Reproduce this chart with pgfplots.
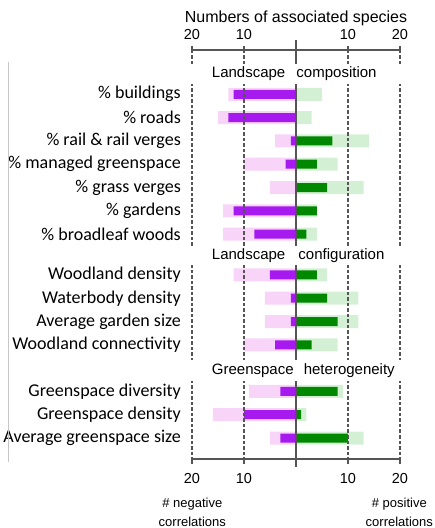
\documentclass[border=0pt]{standalone}
\usepackage{pgfplots}
\pgfplotsset{compat=1.18}
\usepackage{pgfplotstable}
\usepackage{fontspec}
\setmainfont{Liberation Sans}
\newfontfamily\catfont{Carlito}
\definecolor{negall}{RGB}{248,212,248}
\definecolor{negsig}{RGB}{166,26,240}
\definecolor{posall}{RGB}{212,240,212}
\definecolor{possig}{RGB}{0,136,0}
\definecolor{axgray}{RGB}{85,85,85}

\pgfplotstableread{
y      negall negsig posall possig
-1     -13    -12    5      0
-2     -15    -13    3      0
-3     -4     -1     14     7
-4     -10    -2     8      4
-5     -5     0      13     6
-6     -14    -12    4      4
-7     -14    -8     4      2
-8.75  -12    -5     6      4
-9.75  -6     -1     12     6
-10.75 -6     -1     12     8
-11.75 -10    -4     8      3
-13.75 -9     -3     9      8
-14.75 -16    -10    2      1
-15.75 -5     -3     13     10
}\data

\begin{document}
\begin{tikzpicture}
\begin{axis}[
  at={(0pt,0pt)}, anchor=south west,
  scale only axis, width=208pt, height=409pt,
  xmin=-20, xmax=20, ymin=-16.65, ymax=0.901,
  clip=false,
  axis x line*=bottom, axis y line*=left,
  y axis line style={draw=none},
  x axis line style={draw=axgray, line width=1.1pt},
  xtick={-20,-10,10,20}, xticklabels={20,10,10,20},
  tick align=outside, major tick length=5pt,
  xtick style={draw=axgray, line width=1.1pt},
  ytick style={draw=none},
  xticklabel style={font=\fontsize{14.5}{16}\selectfont, yshift=-6pt},
  ytick={-1,-2,-3,-4,-5,-6,-7,-8.75,-9.75,-10.75,-11.75,-13.75,-14.75,-15.75},
  yticklabels={\% buildings,\% roads,\% rail \& rail verges,\% managed greenspace,\% grass verges,\% gardens,\% broadleaf woods,Woodland density,Waterbody density,Average garden size,Woodland connectivity,Greenspace diversity,Greenspace density,Average greenspace size},
  yticklabel style={font=\catfont\fontsize{18}{20}\selectfont, inner sep=0pt, xshift=-6pt},
]
\addplot[xbar, bar width=13pt, bar shift=0pt, fill=negall, draw=none] table[x=negall, y=y] {\data};
\addplot[xbar, bar width=13pt, bar shift=0pt, fill=posall, draw=none] table[x=posall, y=y] {\data};
\addplot[xbar, bar width=9pt, bar shift=0pt, fill=negsig, draw=none] table[x=negsig, y=y] {\data};
\addplot[xbar, bar width=9pt, bar shift=0pt, fill=possig, draw=none] table[x=possig, y=y] {\data};

% reference lines
\draw[axgray, line width=1.1pt, dash pattern=on 3.5pt off 2pt] (axis cs:-20,0.901) -- (axis cs:-20,-16.65);
\draw[axgray, line width=1.1pt, dash pattern=on 3.5pt off 2pt] (axis cs:-10,0.901) -- (axis cs:-10,-16.65);
\draw[axgray, line width=1.1pt, dash pattern=on 3.5pt off 2pt] (axis cs:10,0.901) -- (axis cs:10,-16.65);
\draw[axgray, line width=1.1pt, dash pattern=on 3.5pt off 2pt] (axis cs:20,0.901) -- (axis cs:20,-16.65);
\draw[axgray, line width=1.3pt] (axis cs:0,1.33) -- (axis cs:0,-17.0);

% header bands
\fill[white] (axis cs:-21,0.30) rectangle (axis cs:21,-0.54);
\fill[white] (axis cs:-21,-7.50) rectangle (axis cs:21,-8.34);
\fill[white] (axis cs:-21,-12.42) rectangle (axis cs:21,-13.30);
\node[anchor=west, inner sep=0pt, font=\fontsize{15}{17}\selectfont] at (axis cs:-16.2,-0.12) {Landscape\hspace{7pt} composition};
\node[anchor=west, inner sep=0pt, font=\fontsize{15}{17}\selectfont] at (axis cs:-16.2,-7.92) {Landscape\hspace{9pt} configuration};
\node[anchor=west, inner sep=0pt, font=\fontsize{15}{17}\selectfont] at (axis cs:-16.2,-12.86) {Greenspace\hspace{6pt} heterogeneity};
\end{axis}

\begin{axis}[
  at={(0pt,0pt)}, anchor=south west,
  scale only axis, width=208pt, height=409pt,
  xmin=-20, xmax=20, ymin=-16.65, ymax=0.901,
  axis x line*=top, axis y line=none,
  x axis line style={draw=axgray, line width=1.1pt},
  xtick={-20,-10,10,20}, xticklabels={20,10,10,20},
  tick align=center, major tick length=7pt,
  xtick style={draw=axgray, line width=1.1pt},
  xticklabel style={font=\fontsize{14.5}{16}\selectfont, yshift=3pt},
]
\end{axis}

% picture origin is at (-192pt,-69pt) relative to the axis corner
\draw[black!22, line width=0.8pt] (-183.5pt,397pt) -- (-183.5pt,-3pt);
\node[anchor=base, font=\fontsize{16}{18}\selectfont] at (104pt,436.5pt) {Numbers of associated species};
\node[anchor=base, font=\fontsize{13}{15}\selectfont] at (0.3pt,-48pt) {\# negative};
\node[anchor=base, font=\fontsize{13}{15}\selectfont] at (0.3pt,-67.5pt) {correlations};
\node[anchor=base, font=\fontsize{13}{15}\selectfont] at (207.3pt,-48pt) {\# positive};
\node[anchor=base, font=\fontsize{13}{15}\selectfont] at (207.3pt,-67.5pt) {correlations};

\pgfresetboundingbox
\path[use as bounding box] (-192pt,-69pt) rectangle (243pt,459pt);
\end{tikzpicture}
\end{document}
